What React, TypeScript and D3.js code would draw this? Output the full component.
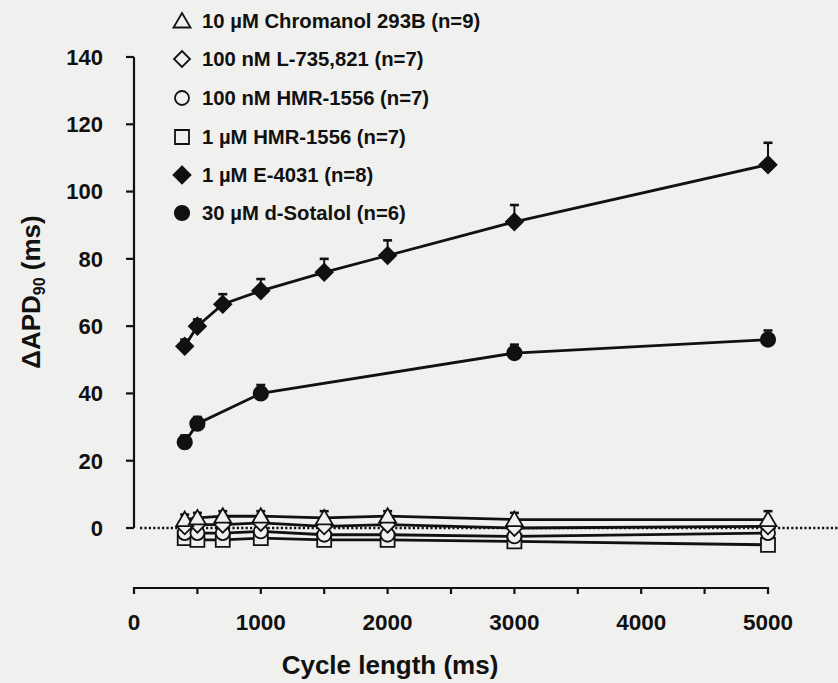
import React from "react";
import * as d3 from "d3";

const WIDTH = 838;
const HEIGHT = 683;

// cycle lengths (ms)
const CYCLE = [400, 500, 700, 1000, 1500, 2000, 3000, 5000];
const SOTALOL_CYCLE = [400, 500, 1000, 3000, 5000];

// delta APD90 (ms) and SEM
const chromanol = [2.5, 3, 3.5, 3.5, 3, 3.5, 2.5, 2.5];
const chromanolSem = [1.5, 1.5, 1.5, 1.5, 2, 1.5, 2, 2.5];
const l735 = [0.5, 1, 1, 1.5, 0.5, 1, 0, 0.5];
const l735Sem = [1, 1, 1, 1, 1, 1, 1, 1.5];
const hmr100 = [-1.5, -1.5, -1.5, -1, -2, -2, -2.5, -1.5];
const hmr100Sem = [1, 1, 1, 1, 1, 1, 1, 1];
const hmr1 = [-3, -3.5, -3.5, -3, -3.5, -3.5, -4, -5];
const hmr1Sem = [1, 1, 1, 1, 1, 1, 1, 1];
const e4031 = [54, 60, 66.5, 70.5, 76, 81, 91, 108];
const e4031Sem = [2, 2, 3, 3.5, 4, 4.5, 5, 6.5];
const sotalol = [25.5, 31, 40, 52, 56];
const sotalolSem = [2, 2, 2.5, 2.5, 2.7];

const Y_TICKS = [0, 20, 40, 60, 80, 100, 120, 140];
const X_TICKS = [0, 1000, 2000, 3000, 4000, 5000];
const X_MINOR = d3.range(0, 5001, 500);

const LEGEND = [
  "10 µM Chromanol 293B (n=9)",
  "100 nM L-735,821 (n=7)",
  "100 nM HMR-1556 (n=7)",
  "1 µM HMR-1556 (n=7)",
  "1 µM E-4031 (n=8)",
  "30 µM d-Sotalol (n=6)",
];

const BG = "#f0f0ee";
const INK = "#111";
const FONT = "'Liberation Sans', Arial, sans-serif";

type Kind = "tri" | "dia" | "circ" | "sq" | "fdia" | "fcirc";

function markerPath(kind: Kind): string {
  switch (kind) {
    case "tri":
      return "M0,-8L8.5,6.5L-8.5,6.5Z";
    case "dia":
      return "M0,-8L8,0L0,8L-8,0Z";
    case "fdia":
      return "M0,-8.5L8.5,0L0,8.5L-8.5,0Z";
    case "sq":
      return "M-7,-7H7V7H-7Z";
    default:
      return "";
  }
}

function Marker({ kind, x, y }: { kind: Kind; x: number; y: number }) {
  const filled = kind === "fdia" || kind === "fcirc";
  const fill = filled ? INK : BG;
  if (kind === "circ" || kind === "fcirc") {
    return (
      <circle cx={x} cy={y} r={filled ? 7.2 : 7} fill={fill} stroke={INK} strokeWidth={1.8} />
    );
  }
  return (
    <path
      d={markerPath(kind)}
      transform={`translate(${x},${y})`}
      fill={fill}
      stroke={INK}
      strokeWidth={1.8}
    />
  );
}

export default function App() {
  const x = d3.scaleLinear().domain([0, 5000]).range([134, 768]);
  const y = d3.scaleLinear().domain([0, 140]).range([528, 57]);

  const series = [
    { kind: "sq" as Kind, xs: CYCLE, ys: hmr1, sem: hmr1Sem },
    { kind: "circ" as Kind, xs: CYCLE, ys: hmr100, sem: hmr100Sem },
    { kind: "dia" as Kind, xs: CYCLE, ys: l735, sem: l735Sem },
    { kind: "tri" as Kind, xs: CYCLE, ys: chromanol, sem: chromanolSem },
    { kind: "fcirc" as Kind, xs: SOTALOL_CYCLE, ys: sotalol, sem: sotalolSem },
    { kind: "fdia" as Kind, xs: CYCLE, ys: e4031, sem: e4031Sem },
  ];

  const legendKinds: Kind[] = ["tri", "dia", "circ", "sq", "fdia", "fcirc"];
  const legendY = [21, 59, 98, 137, 175, 213];

  return (
    <svg
      width={WIDTH}
      height={HEIGHT}
      style={{ position: "absolute", left: 0, top: 0, background: BG }}
      fontFamily={FONT}
      fontWeight="bold"
    >
      <rect width={WIDTH} height={HEIGHT} fill={BG} />

      {/* zero line */}
      <line
        x1={140}
        x2={WIDTH}
        y1={y(0)}
        y2={y(0)}
        stroke={INK}
        strokeWidth={2.4}
        strokeDasharray="2.2,2.2"
      />

      {/* y axis */}
      <line x1={x(0)} x2={x(0)} y1={y(140)} y2={y(0)} stroke={INK} strokeWidth={2.2} />
      {Y_TICKS.map((t) => (
        <g key={t}>
          <line x1={x(0) - 8} x2={x(0)} y1={y(t)} y2={y(t)} stroke={INK} strokeWidth={2.2} />
          <text x={103} y={y(t)} dy="0.36em" textAnchor="end" fontSize={22} fill={INK}>
            {t}
          </text>
        </g>
      ))}
      <text
        transform={`translate(40,292) rotate(-90)`}
        textAnchor="middle"
        fontSize={26}
        fill={INK}
      >
        ΔAPD
        <tspan fontSize={16} dy={5}>90</tspan>
        <tspan dy={-5}> (ms)</tspan>
      </text>

      {/* x axis */}
      <line x1={x(0)} x2={x(5000)} y1={588} y2={588} stroke={INK} strokeWidth={2.2} />
      {X_MINOR.map((t) => (
        <line key={t} x1={x(t)} x2={x(t)} y1={587} y2={594} stroke={INK} strokeWidth={2.2} />
      ))}
      {X_TICKS.map((t) => (
        <text key={t} x={x(t)} y={630} textAnchor="middle" fontSize={22.5} fill={INK}>
          {t}
        </text>
      ))}
      <text x={390} y={674} textAnchor="middle" fontSize={26} fill={INK}>
        Cycle length (ms)
      </text>

      {/* lines */}
      {series.map((s, k) => (
        <path
          key={`l${k}`}
          d={
            d3
              .line<number>()
              .x((_, i) => x(s.xs[i]))
              .y((d) => y(d))(s.ys) || ""
          }
          fill="none"
          stroke={INK}
          strokeWidth={2.8}
        />
      ))}

      {/* error bars */}
      {series.map((s, k) =>
        s.ys.map((v, i) => {
          const cx = x(s.xs[i]);
          const end = v >= 0 ? v + s.sem[i] : v - s.sem[i];
          return (
            <g key={`e${k}-${i}`} stroke={INK} strokeWidth={2}>
              <line x1={cx} x2={cx} y1={y(v)} y2={y(end)} />
              <line x1={cx - 4.5} x2={cx + 4.5} y1={y(end)} y2={y(end)} strokeWidth={2.6} />
            </g>
          );
        })
      )}

      {/* markers */}
      {series.map((s, k) =>
        s.ys.map((v, i) => <Marker key={`m${k}-${i}`} kind={s.kind} x={x(s.xs[i])} y={y(v)} />)
      )}

      {/* legend */}
      {LEGEND.map((label, i) => (
        <g key={label}>
          <Marker kind={legendKinds[i]} x={182} y={legendY[i]} />
          <text x={202} y={legendY[i]} dy="0.36em" fontSize={20.3} fill={INK}>
            {label}
          </text>
        </g>
      ))}
    </svg>
  );
}
